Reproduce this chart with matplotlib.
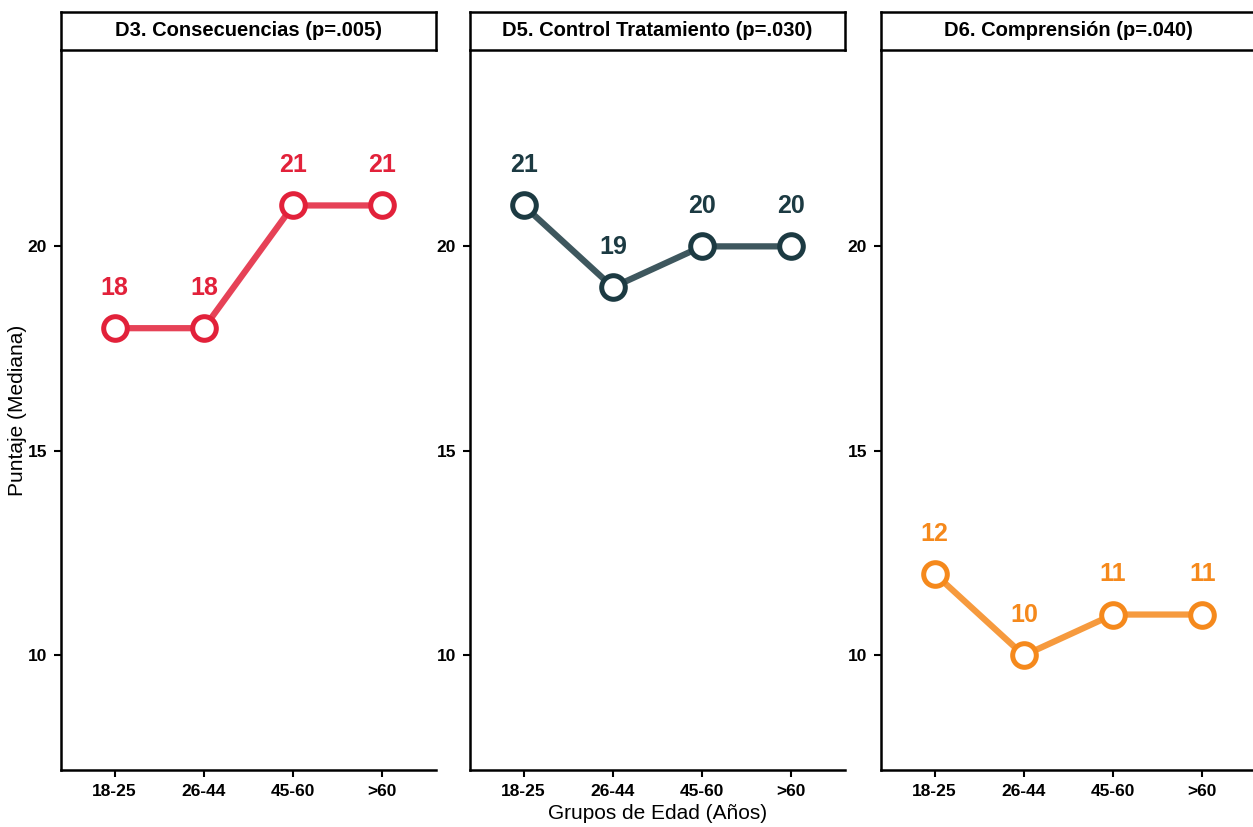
import numpy as np
import matplotlib.pyplot as plt

plt.rcParams['font.family'] = ['Liberation Sans', 'DejaVu Sans']

# data
grupos = ['18-25', '26-44', '45-60', '>60']
d3_consecuencias = [18, 18, 21, 21]
d5_control = [21, 19, 20, 20]
d6_comprension = [12, 10, 11, 11]
titulos = ['D3. Consecuencias (p=.005)', 'D5. Control Tratamiento (p=.030)',
           'D6. Comprensión (p=.040)']
colores = ['#E2213A', '#1C3A42', '#F5891C']
series = [d3_consecuencias, d5_control, d6_comprension]

W, H = 1253, 827
fig = plt.figure(figsize=(W / 100, H / 100), dpi=100)
fig.patch.set_facecolor('white')

lefts = [61, 470, 881]
pw = 375
ax_top, ax_bot = 50, 770
strip_top = 12

x = np.arange(1, len(grupos) + 1)
for i, (vals, col, tit) in enumerate(zip(series, colores, titulos)):
    ax = fig.add_axes([lefts[i] / W, (H - ax_bot) / H, pw / W, (ax_bot - ax_top) / H])
    ax.plot(x, vals, color=col, lw=4.5, alpha=0.85, zorder=2, solid_capstyle='butt')
    ax.plot(x, vals, 'o', ms=17, mfc='white', mec=col, mew=3.6, zorder=3)
    for xi, v in zip(x, vals):
        ax.text(xi, v + 0.98, str(v), ha='center', va='center', color=col,
                fontsize=18, fontweight='bold')
    ax.set_xlim(0.4, 4.6)
    ax.set_ylim(7.2, 24.8)
    ax.set_yticks([10, 15, 20])
    ax.set_xticks(x)
    ax.set_xticklabels(grupos)
    for lab in ax.get_xticklabels() + ax.get_yticklabels():
        lab.set_fontweight('bold')
        lab.set_fontsize(12.5)
    ax.tick_params(direction='out', length=5, width=1.5, color='black', pad=5)
    for s in ['top', 'right']:
        ax.spines[s].set_visible(False)
    for s in ['left', 'bottom']:
        ax.spines[s].set_linewidth(1.8)
    if i == 1:
        ax.set_xlabel('Grupos de Edad (Años)', fontsize=15, labelpad=4)

    sax = fig.add_axes([lefts[i] / W, (H - ax_top) / H, pw / W, (ax_top - strip_top) / H])
    sax.set_xticks([])
    sax.set_yticks([])
    for s in sax.spines.values():
        s.set_linewidth(1.8)
    sax.text(0.5, 0.5, tit, ha='center', va='center', fontsize=14.5, fontweight='bold',
             transform=sax.transAxes)

fig.text(18 / W, 1 - 410 / H, 'Puntaje (Mediana)', rotation=90, ha='center', va='center',
         fontsize=15)

fig.savefig('out.png', dpi=100)
